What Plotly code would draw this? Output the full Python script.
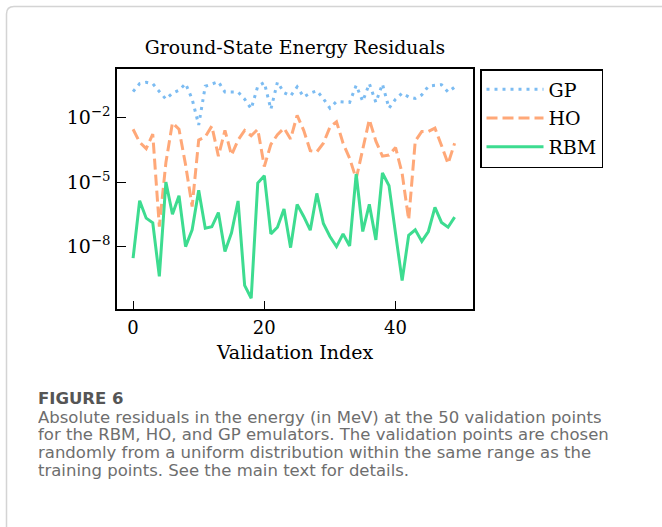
import numpy as np
import plotly.graph_objects as go

# ---------------- data (log10 of absolute residual) ----------------
index = list(range(50))
gp_log10 = [-0.80, -0.43, -0.37, -0.43, -0.80, -1.15, -0.88, -0.74, -0.43, -1.15,
            -2.35, -0.55, -0.45, -0.34, -0.82, -0.82, -0.82, -1.15, -1.60, -0.55,
            -0.38, -1.62, -0.36, -0.85, -1.00, -0.58, -1.05, -0.87, -0.76, -1.13,
            -1.57, -1.26, -1.28, -1.30, -0.51, -1.25, -0.43, -1.30, -0.45, -1.57,
            -1.15, -0.87, -1.05, -1.12, -0.95, -0.55, -0.51, -0.48, -0.82, -0.59]
ho_log10 = [-2.55, -3.15, -3.45, -2.78, -7.07, -4.10, -2.25, -2.55, -4.20, -6.14,
            -3.05, -2.90, -2.40, -3.80, -2.60, -3.75, -3.05, -2.60, -2.85, -2.55,
            -4.28, -3.25, -2.80, -2.50, -3.00, -1.90, -2.60, -3.55, -3.60, -3.20,
            -2.45, -2.20, -3.20, -3.90, -4.85, -3.40, -2.10, -3.10, -3.80, -3.75,
            -3.40, -4.60, -6.76, -3.10, -2.65, -2.65, -2.50, -3.30, -4.15, -3.20]
rbm_log10 = [-8.54, -5.87, -6.68, -6.90, -9.38, -5.00, -6.50, -5.64, -8.00, -7.22,
             -5.38, -7.15, -7.08, -6.42, -8.23, -7.36, -5.88, -9.80, -10.40, -5.05,
             -4.71, -7.41, -7.10, -6.25, -8.05, -6.04, -6.60, -7.24, -5.53, -6.93,
             -7.53, -8.00, -7.41, -7.97, -4.63, -7.30, -6.04, -7.69, -4.58, -5.17,
             -7.40, -9.58, -7.48, -7.22, -7.76, -7.30, -6.18, -6.88, -7.10, -6.63]
series_names = ["GP", "HO", "RBM"]
series_colors = ["#7cbcf2", "#ffa878", "#3ddc90"]
series_dash = ["3px,5px", "11px,5px", "solid"]

xtick_vals = [0, 20, 40]
ytick_vals = [1e-8, 1e-5, 1e-2]
ytick_text = ["10<sup>−8</sup>", "10<sup>−5</sup>", "10<sup>−2</sup>"]

title_text = "Ground-State Energy Residuals"
xlabel_text = "Validation Index"
fig_label = "FIGURE 6"
caption_lines = [
    "Absolute residuals in the energy (in MeV) at the 50 validation points",
    "for the RBM, HO, and GP emulators. The validation points are chosen",
    "randomly from a uniform distribution within the same range as the",
    "training points. See the main text for details.",
]

# ---------------- layout geometry ----------------
W, H = 662, 527
L, R, T, B = 117, 189, 69, 218
PW, PH = W - L - R, H - T - B


def px(x):
    return (x - L) / PW


def py(y):
    return (H - B - y) / PH


SERIF = "DejaVu Serif"
SANS = "DejaVu Sans"

fig = go.Figure()
for name, vals, col, dash in zip(series_names, [gp_log10, ho_log10, rbm_log10],
                                 series_colors, series_dash):
    fig.add_trace(go.Scatter(
        x=index, y=np.power(10.0, np.array(vals)), mode="lines", name=name,
        legendgroup=name,
        line=dict(color=col, width=3, dash=dash),
    ))

axis_common = dict(showgrid=False, zeroline=False, showline=True, mirror=True,
                   linecolor="black", linewidth=1.5, tickcolor="black",
                   tickwidth=1.3)

fig.update_layout(
    width=W, height=H,
    margin=dict(l=L, r=R, t=T, b=B),
    paper_bgcolor="white", plot_bgcolor="white",
    showlegend=True,
    title=dict(text=title_text, x=0.5, xref="paper", xanchor="center",
               y=1 - 47 / H, yref="container", yanchor="middle",
               font=dict(family=SERIF, size=18.8, color="black")),
    xaxis=dict(range=[-2.45, 51.8], tickvals=xtick_vals, ticks="inside", ticklen=8,
               ticklabelstandoff=2,
               tickfont=dict(family=SERIF, size=18, color="black"),
               title=dict(text=xlabel_text, font=dict(family=SERIF, size=19, color="black"),
                          standoff=8),
               **axis_common),
    xaxis2=dict(range=[-2.45, 51.8], overlaying="x", anchor="y", side="bottom",
                tickvals=xtick_vals, ticks="outside", ticklen=5, tickwidth=1.3,
                tickcolor="black", showticklabels=False, showline=False,
                showgrid=False, zeroline=False),
    yaxis=dict(type="log", range=[-10.9, 0.25], tickvals=ytick_vals, ticktext=ytick_text,
               ticks="inside", ticklen=9, ticklabelstandoff=1,
               tickfont=dict(family=SERIF, size=19, color="black"),
               **axis_common),
    legend=dict(x=px(480), y=1.0, xanchor="left", yanchor="top",
                bgcolor="white", bordercolor="black", borderwidth=1.5,
                font=dict(family=SERIF, size=19, color="black"),
                itemwidth=57, tracegroupgap=1),
)

# light frame around figure panel
fig.add_shape(type="path", xref="paper", yref="paper",
              path=(f"M {px(6.5)},{py(H + 10)} L {px(6.5)},{py(14)} "
                    f"Q {px(6.5)},{py(6.5)} {px(14)},{py(6.5)} L {px(W + 10)},{py(6.5)}"),
              line=dict(color="#d4d4d4", width=1.5))

fig.add_annotation(text=fig_label, xref="paper", yref="paper", x=px(36), y=py(398),
                   xanchor="left", yanchor="middle", showarrow=False,
                   font=dict(family=SANS, size=16.5, color="#555555", weight=700))
for i, line in enumerate(caption_lines):
    fig.add_annotation(text=line, xref="paper", yref="paper", x=px(36),
                       y=py(417 + 17.7 * i), xanchor="left", yanchor="middle",
                       showarrow=False, height=17.4,
                       font=dict(family=SANS, size=16.5, color="#6e6e6e"))

fig.write_html("out.html")
